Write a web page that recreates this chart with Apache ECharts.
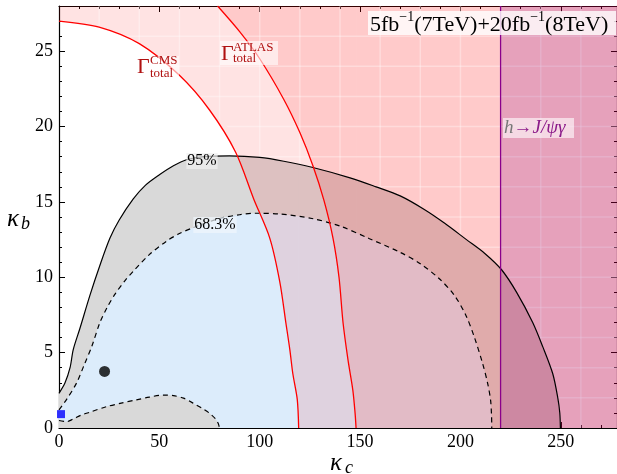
<!DOCTYPE html>
<html>
<head>
<meta charset="utf-8">
<script src="https://cdn.jsdelivr.net/npm/echarts@6/dist/echarts.min.js"></script>
<style>
  html, body { margin: 0; padding: 0; background: #fff; }
  #main { width: 617px; height: 474px; }
</style>
</head>
<body>
<div id="main"></div>
<script>
// axis ranges
var xMax = 278, yMax = 28;
var xTicks = [0, 50, 100, 150, 200, 250];
var yTicks = [0, 5, 10, 15, 20, 25];

// total width bounds
var cmsCurve = [[0, 27], [20, 26.6], [40, 25.5], [60, 23.4], [75, 21.1], [88, 18.3], [97, 15.2],
  [105, 12.6], [110, 9.7], [113, 7.0], [115, 5.2], [116.5, 3.6], [118.7, 1.9], [119.4, 0]];
var atlasCurve = [[79, 28], [90, 26.3], [100, 24.5], [112, 21.8], [120, 19.6], [126.5, 17.4],
  [132, 15.1], [136.5, 12.6], [139.5, 10], [141.5, 7], [144, 4.5], [146.4, 2.5], [147.5, 1], [148, 0]];
// h -> J/psi gamma bound
var jpsiBound = 220;

// 95% contour
var cl95 = [[0, 2.3], [3, 3.0], [5.5, 4.0], [7.1, 5.2], [10.4, 6.6], [15.4, 8.8], [20.4, 10.8],
  [25.4, 12.6], [30, 13.8], [37, 15.2], [43, 16.1], [50, 16.8], [57, 17.4], [63.5, 17.8], [72, 18.0],
  [85, 18.05], [100, 17.95], [112, 17.7], [126, 17.3], [145, 16.6], [158, 16.0], [170, 15.4],
  [182, 14.5], [192, 13.6], [203, 12.5], [212, 11.6], [220.5, 10.5], [228, 9.0], [236, 7.0],
  [241, 5.4], [246, 3.6], [248.5, 2.0], [249.5, 1.0], [249.8, 0]];
// 68.3% contour, upper and lower branch
var cl68Upper = [[0, 1.2], [3.8, 1.9], [8.8, 3.0], [12.9, 4.3], [16.3, 5.4], [20.4, 7.0], [24, 8.0],
  [28, 8.9], [33, 9.8], [37, 10.4], [45, 11.5], [53.6, 12.4], [60, 12.9], [67, 13.3], [80, 13.9],
  [90, 14.15], [98, 14.25], [110, 14.2], [126, 13.9], [140, 13.4], [154.7, 12.56], [169.7, 11.67],
  [180, 10.9], [189.5, 9.9], [197, 8.8], [202.8, 7.45], [207, 6.0], [211, 4.3], [213.5, 3.0],
  [215, 1.87], [215.5, 0.8], [215.6, 0]];
var cl68Lower = [[0, 0.5], [3.8, 0.42], [7.1, 0.6], [11, 0.85], [15.4, 1.05], [23.7, 1.42],
  [31, 1.65], [38.6, 1.87], [45, 2.05], [52, 2.18], [57, 2.15], [62, 1.98], [66.8, 1.65],
  [72, 1.25], [75, 0.98], [78, 0.6], [79.3, 0.31], [80, 0]];

// best fit and SM point
var bestFit = [[22.7, 3.75]];
var smPoint = [[1.0, 0.92]];

var font = 'Liberation Serif';
var smooth = 0.3;
var pink = 'rgba(255,0,0,0.11)';

var myChart = echarts.init(document.getElementById('main'));

// filled area under (origin 'auto') or above (origin 'end') a curve
function fill(name, pts, color, origin, z) {
    return {
        type: 'line', name: name, data: pts, showSymbol: false, silent: true, z: z, smooth: smooth,
        lineStyle: { width: 0 },
        areaStyle: { color: color, opacity: 1, origin: origin }
    };
}

// rectangle from x0 to the right edge, full height
function slab(name, x0, color, z) {
    return {
        type: 'custom', name: name, coordinateSystem: 'cartesian2d', silent: true, z: z,
        data: [[x0, 0]],
        renderItem: function(params, api) {
            var a = api.coord([x0, yMax]);
            var b = api.coord([xMax, 0]);
            return { type: 'rect', shape: { x: a[0], y: a[1], width: b[0] - a[0], height: b[1] - a[1] }, style: { fill: color } };
        }
    };
}

function curve(name, pts, color, width, type, z) {
    return {
        type: 'line', name: name, data: pts, showSymbol: false, silent: true, z: z, smooth: smooth,
        lineStyle: { color: color, width: width, type: type }
    };
}

// faint white grid texture in the excluded zone, outside the 95% region
var texture = {
    type: 'custom', name: 'texture', coordinateSystem: 'cartesian2d', silent: true, z: 5,
    data: [[0, 0]],
    renderItem: function(params, api) {
        var zone = cmsCurve.filter(function(p) { return p[0] < 88; })
            .concat(cl95.filter(function(p) { return p[0] >= 88; }))
            .concat([[xMax, 0], [xMax, yMax], [0, yMax]]);
        var stroke = 'rgba(255,255,255,0.32)';
        var children = [];
        for (var x = 20; x < xMax; x += 20) {
            var p = api.coord([x, 0]), q = api.coord([x, yMax]);
            children.push({ type: 'line', shape: { x1: p[0], y1: p[1], x2: q[0], y2: q[1] }, style: { stroke: stroke, lineWidth: 1.5 } });
        }
        for (var y = 2; y < yMax; y += 2) {
            var r = api.coord([0, y]), s = api.coord([xMax, y]);
            children.push({ type: 'line', shape: { x1: r[0], y1: r[1], x2: s[0], y2: s[1] }, style: { stroke: stroke, lineWidth: 1.5 } });
        }
        return {
            type: 'group', children: children,
            clipPath: { type: 'polygon', shape: { points: zone.map(function(pt) { return api.coord(pt); }) } }
        };
    }
};

var xAxisBase = {
    type: 'value', min: 0, max: xMax, interval: 50,
    axisLine: { onZero: false, lineStyle: { color: '#000', width: 1.2 } },
    axisTick: { inside: true, length: 6, lineStyle: { color: '#000' } },
    minorTick: { show: true, splitNumber: 5, length: 3, lineStyle: { color: '#000' } },
    splitLine: { show: false }
};
var yAxisBase = {
    type: 'value', min: 0, max: yMax, interval: 5,
    axisLine: { onZero: false, lineStyle: { color: '#000', width: 1.2 } },
    axisTick: { inside: true, length: 6, lineStyle: { color: '#000' } },
    minorTick: { show: true, splitNumber: 5, length: 3, lineStyle: { color: '#000' } },
    splitLine: { show: false }
};

var cmsEnd = cmsCurve[cmsCurve.length - 1][0];
var atlasEnd = atlasCurve[atlasCurve.length - 1][0];

function txt(x, y, text, size, color, italic, extra) {
    var st = {
        x: x, y: y, text: text, fill: color, textVerticalAlign: 'middle',
        font: (italic ? 'italic ' : '') + size + 'px "Liberation Serif"'
    };
    if (extra) { for (var k in extra) st[k] = extra[k]; }
    return { type: 'text', z: 100, style: st };
}

var red = '#b01010';

var option = {
    animation: false,
    backgroundColor: '#fff',
    grid: { left: 59, right: -1, top: 6, bottom: 46, containLabel: false },
    xAxis: [
        echarts.util.merge({
            position: 'bottom',
            axisLabel: {
                fontFamily: font, fontSize: 18, color: '#000', margin: 5, showMaxLabel: false,
                formatter: function(v) { return xTicks.indexOf(v) >= 0 ? String(v) : ''; }
            }
        }, xAxisBase, true),
        echarts.util.merge({ position: 'top', axisLabel: { show: false } }, xAxisBase, true)
    ],
    yAxis: [
        echarts.util.merge({
            position: 'left',
            axisLabel: {
                fontFamily: font, fontSize: 18, color: '#000', margin: 6, showMaxLabel: false,
                formatter: function(v) { return yTicks.indexOf(v) >= 0 ? String(v) : ''; }
            }
        }, yAxisBase, true),
        echarts.util.merge({ position: 'right', axisLabel: { show: false } }, yAxisBase, true)
    ],
    series: [
        fill('band95', cl95, '#d9d9d9', 'auto', 1),
        fill('band68', cl68Upper, '#dcecfb', 'auto', 2),
        fill('band68low', cl68Lower, '#d9d9d9', 'auto', 3),
        fill('cmsZone', cmsCurve, pink, 'end', 4),
        slab('cmsSlab', cmsEnd, pink, 4),
        fill('atlasZone', atlasCurve, pink, 'end', 4),
        slab('atlasSlab', atlasEnd, pink, 4),
        texture,
        slab('jpsiSlab', jpsiBound, 'rgba(128,0,128,0.2)', 6),
        curve('cl95', cl95, '#000', 1.2, 'solid', 7),
        curve('cl68u', cl68Upper, '#000', 1.2, [5, 4], 7),
        curve('cl68l', cl68Lower, '#000', 1.2, [5, 4], 7),
        curve('cmsLine', cmsCurve, '#ff0000', 1.3, 'solid', 8),
        curve('atlasLine', atlasCurve, '#ff0000', 1.3, 'solid', 8),
        curve('jpsiLine', [[jpsiBound, 0], [jpsiBound, yMax]], '#8a008a', 1.3, 'solid', 8),
        {
            type: 'scatter', data: bestFit, symbol: 'circle', symbolSize: 11, z: 9,
            itemStyle: { color: '#000' }, silent: true
        },
        {
            type: 'scatter', data: smPoint, symbol: 'rect', symbolSize: 8, z: 9, clip: false,
            itemStyle: { color: '#0000ff' }, silent: true
        }
    ],
    graphic: [
        // axis titles
        txt(7, 219, 'κ', 25, '#000', true),
        txt(21, 224, 'b', 18, '#000', true),
        txt(330, 463, 'κ', 25, '#000', true),
        txt(345, 468, 'c', 18, '#000', true),

        // contour labels
        txt(202, 161, '95%', 16, '#000', false, { textAlign: 'center', backgroundColor: 'rgba(240,240,240,0.7)', padding: [0, 1] }),
        txt(215, 225, '68.3%', 16, '#000', false, { textAlign: 'center', backgroundColor: 'rgba(240,246,252,0.7)', padding: [0, 1] }),

        // Gamma_total CMS label
        { type: 'rect', z: 99, shape: { x: 136, y: 56, width: 43, height: 24 }, style: { fill: 'rgba(255,255,255,0.6)' } },
        txt(137, 67.5, 'Γ', 22, red, false),
        txt(150, 60.5, 'CMS', 13, red, false),
        txt(150, 73.5, 'total', 13, red, false),

        // Gamma_total ATLAS label
        { type: 'rect', z: 99, shape: { x: 220, y: 41, width: 58, height: 24 }, style: { fill: 'rgba(255,255,255,0.6)' } },
        txt(221, 54.5, 'Γ', 22, red, false),
        txt(233, 47.5, 'ATLAS', 13, red, false),
        txt(233, 58.5, 'total', 13, red, false),

        // luminosity box
        { type: 'rect', z: 99, shape: { x: 368, y: 11, width: 248, height: 24 }, style: { fill: 'rgba(255,255,255,0.8)' } },
        {
            type: 'text', z: 100,
            style: {
                x: 370, y: 23, textVerticalAlign: 'middle',
                text: '{m|5fb}{s|−1}{m|(7TeV)+20fb}{s|−1}{m|(8TeV)}',
                rich: {
                    m: { fontFamily: font, fontSize: 22, fill: '#000', lineHeight: 26, verticalAlign: 'bottom' },
                    s: { fontFamily: font, fontSize: 14, fill: '#000', lineHeight: 26, verticalAlign: 'top' }
                }
            }
        },

        // h -> J/psi gamma label
        { type: 'rect', z: 99, shape: { x: 503, y: 118, width: 71, height: 20 }, style: { fill: 'rgba(255,255,255,0.6)' } },
        {
            type: 'text', z: 100,
            style: {
                x: 504, y: 128, textVerticalAlign: 'middle',
                text: '{h|h}{p|→J/ψγ}',
                rich: {
                    h: { fontFamily: font, fontStyle: 'italic', fontSize: 19, fill: '#777' },
                    p: { fontFamily: font, fontStyle: 'italic', fontSize: 19, fill: '#8b1a89' }
                }
            }
        }
    ]
};

myChart.setOption(option);
</script>
</body>
</html>
